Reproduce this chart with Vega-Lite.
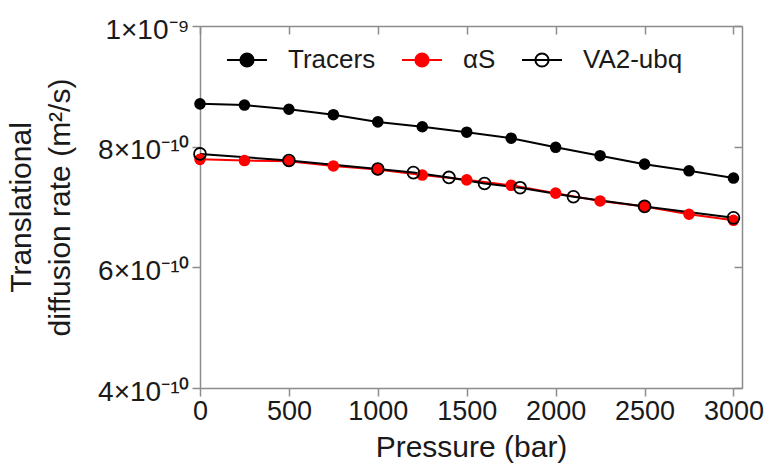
{
  "$schema": "https://vega.github.io/schema/vega-lite/v6.json",
  "width": 542,
  "height": 362,
  "autosize": {"type": "none"},
  "padding": {"left": 200, "top": 26, "right": 23, "bottom": 78},
  "background": "white",
  "config": {
    "view": {"stroke": null},
    "font": "Liberation Sans",
    "axis": {
      "grid": false,
      "domainColor": "#8c8c8c",
      "tickColor": "#8c8c8c",
      "domainWidth": 1.5,
      "tickWidth": 1.5,
      "labelColor": "#1a1a1a",
      "titleColor": "#1a1a1a",
      "labelFont": "Liberation Sans",
      "titleFont": "Liberation Sans",
      "titleFontWeight": "normal",
      "labelFontSize": 27,
      "titleFontSize": 30
    }
  },
  "data": {
    "values": [
      {"series": "Tracers", "pressure": 0, "D": 8.71e-10},
      {"series": "Tracers", "pressure": 250, "D": 8.69e-10},
      {"series": "Tracers", "pressure": 500, "D": 8.62e-10},
      {"series": "Tracers", "pressure": 750, "D": 8.53e-10},
      {"series": "Tracers", "pressure": 1000, "D": 8.41e-10},
      {"series": "Tracers", "pressure": 1250, "D": 8.33e-10},
      {"series": "Tracers", "pressure": 1500, "D": 8.24e-10},
      {"series": "Tracers", "pressure": 1750, "D": 8.14e-10},
      {"series": "Tracers", "pressure": 2000, "D": 7.99e-10},
      {"series": "Tracers", "pressure": 2250, "D": 7.85e-10},
      {"series": "Tracers", "pressure": 2500, "D": 7.71e-10},
      {"series": "Tracers", "pressure": 2750, "D": 7.60e-10},
      {"series": "Tracers", "pressure": 3000, "D": 7.48e-10},
      {"series": "αS", "pressure": 0, "D": 7.79e-10},
      {"series": "αS", "pressure": 250, "D": 7.77e-10},
      {"series": "αS", "pressure": 500, "D": 7.76e-10},
      {"series": "αS", "pressure": 750, "D": 7.68e-10},
      {"series": "αS", "pressure": 1000, "D": 7.62e-10},
      {"series": "αS", "pressure": 1250, "D": 7.53e-10},
      {"series": "αS", "pressure": 1500, "D": 7.45e-10},
      {"series": "αS", "pressure": 1750, "D": 7.36e-10},
      {"series": "αS", "pressure": 2000, "D": 7.23e-10},
      {"series": "αS", "pressure": 2250, "D": 7.10e-10},
      {"series": "αS", "pressure": 2500, "D": 7.01e-10},
      {"series": "αS", "pressure": 2750, "D": 6.88e-10},
      {"series": "αS", "pressure": 3000, "D": 6.78e-10},
      {"series": "VA2-ubq", "pressure": 0, "D": 7.88e-10},
      {"series": "VA2-ubq", "pressure": 500, "D": 7.77e-10},
      {"series": "VA2-ubq", "pressure": 1000, "D": 7.63e-10},
      {"series": "VA2-ubq", "pressure": 1200, "D": 7.57e-10},
      {"series": "VA2-ubq", "pressure": 1400, "D": 7.49e-10},
      {"series": "VA2-ubq", "pressure": 1600, "D": 7.39e-10},
      {"series": "VA2-ubq", "pressure": 1800, "D": 7.32e-10},
      {"series": "VA2-ubq", "pressure": 2100, "D": 7.17e-10},
      {"series": "VA2-ubq", "pressure": 2500, "D": 7.01e-10},
      {"series": "VA2-ubq", "pressure": 3000, "D": 6.82e-10}
    ]
  },
  "layer": [
    {
      "mark": {"type": "line", "strokeWidth": 2},
      "encoding": {
        "x": {
          "field": "pressure", "type": "quantitative",
          "scale": {"domain": [0, 3048], "nice": false, "zero": false},
          "axis": {
            "orient": "bottom", "values": [0, 500, 1000, 1500, 2000, 2500, 3000],
            "format": "d",
            "tickSize": 8, "labelPadding": 2, "title": "Pressure (bar)", "titlePadding": 8,
            "labelFlush": false, "labelOverlap": false
          }
        },
        "y": {
          "field": "D", "type": "quantitative",
          "scale": {"domain": [4e-10, 1e-9], "nice": false, "zero": false},
          "axis": {
            "orient": "left", "values": [4e-10, 6e-10, 8e-10, 1e-9],
            "tickSize": 8, "labelPadding": 3, "labelOffset": 4, "labelFontSize": 28,
            "labelFlush": false, "labelOverlap": false,
            "labelExpr": "datum.value > 9.5e-10 ? '1×10⁻⁹' : format(round(datum.value*1e10), 'd') + '×10⁻¹⁰'",
            "title": ["Translational", "diffusion rate (m²/s)"],
            "titleLineHeight": 39, "titlePadding": 22
          }
        },
        "color": {
          "field": "series", "type": "nominal",
          "scale": {"domain": ["Tracers", "αS", "VA2-ubq"], "range": ["#000000", "#ff0000", "#000000"]},
          "legend": {
            "orient": "none", "legendX": 26, "legendY": 13, "direction": "horizontal",
            "title": null, "padding": 0,
            "symbolType": "M -1 0 H 1 M 0.33 0 A 0.33 0.33 0 1 1 -0.33 0 A 0.33 0.33 0 1 1 0.33 0",
            "symbolSize": 1600, "symbolStrokeWidth": 2,
            "labelFont": "Liberation Sans", "labelFontSize": 26, "labelColor": "#1a1a1a",
            "labelOffset": 20, "columnPadding": 22,
            "encode": {
              "symbols": {
                "update": {
                  "fill": {"signal": "datum.value === 'VA2-ubq' ? 'white' : (datum.value === 'αS' ? '#ff0000' : '#000000')"},
                  "stroke": {"signal": "datum.value === 'αS' ? '#ff0000' : '#000000'"},
                  "strokeWidth": {"value": 2}
                }
              }
            }
          }
        }
      }
    },
    {
      "transform": [{"filter": "datum.series !== 'VA2-ubq'"}],
      "mark": {"type": "point", "filled": true, "size": 135, "opacity": 1},
      "encoding": {
        "x": {
          "field": "pressure", "type": "quantitative",
          "axis": {"orient": "top", "values": [0, 500, 1000, 1500, 2000, 2500, 3000], "tickSize": -8, "labels": false, "title": null}
        },
        "y": {
          "field": "D", "type": "quantitative",
          "axis": {"orient": "right", "values": [4e-10, 6e-10, 8e-10, 1e-9], "tickSize": -8, "labels": false, "title": null}
        },
        "color": {"condition": {"test": "datum.series === 'αS'", "value": "#ff0000"}, "value": "#000000"}
      }
    },
    {
      "transform": [{"filter": "datum.series === 'VA2-ubq'"}],
      "mark": {"type": "point", "filled": false, "size": 140, "strokeWidth": 1.8, "color": "#000000", "opacity": 1},
      "encoding": {
        "x": {"field": "pressure", "type": "quantitative", "axis": null},
        "y": {"field": "D", "type": "quantitative", "axis": null}
      }
    }
  ],
  "resolve": {"axis": {"x": "independent", "y": "independent"}}
}
